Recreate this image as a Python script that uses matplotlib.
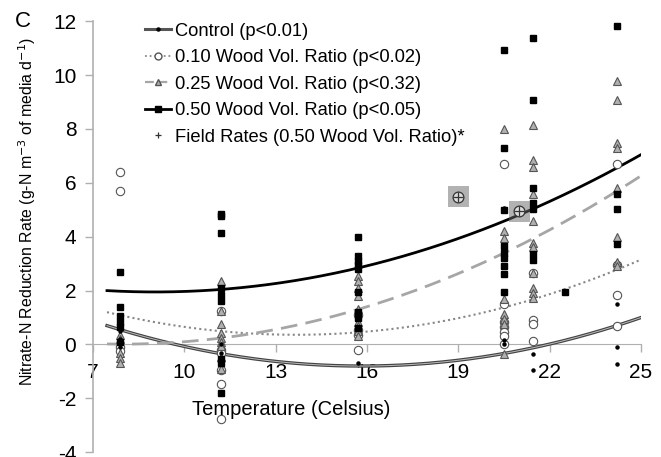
import numpy as np
import matplotlib
matplotlib.use("Agg")
import matplotlib.pyplot as plt
from matplotlib.lines import Line2D

plt.rcParams['font.family'] = ['Liberation Sans', 'DejaVu Sans']

# temperatures (Celsius) of each sampling column
temps = [7.9, 11.2, 15.7, 20.5, 21.45, 24.2]

# nitrate-N reduction rates per column, per treatment
control_y = [[0.5, 0.2, -0.1], [0.0, -0.3, -0.6], [-0.7],
             [5.05, 0.15, 0.0], [-0.35, -0.95], [1.5, -0.08, -0.73]]
wood10_y = [[6.4, 5.7, -0.1, -0.25],
            [1.25, -0.2, -0.3, -0.95, -1.45, -2.75],
            [1.1, 0.55, 0.35, -0.2],
            [6.7, 1.5, 0.85, 0.65, 0.45, 0.3, 0.0],
            [2.66, 0.92, 0.76, 0.12],
            [6.7, 2.95, 1.84, 0.67]]
wood25_y = [[0.35, 0.2, -0.3, -0.5, -0.7],
            [2.35, 1.25, 0.75, 0.42, 0.25, 0.1, -0.05, -0.45, -0.9],
            [2.55, 2.35, 2.1, 1.8, 1.3, 0.85, 0.7, 0.5, 0.3],
            [7.98, 4.2, 3.95, 1.7, 1.15, 0.95, 0.75, -0.35],
            [8.14, 6.85, 6.6, 5.6, 4.58, 3.78, 3.6, 2.66, 2.1, 1.9, 1.72],
            [9.78, 9.07, 7.47, 7.28, 5.8, 3.98, 3.05, 2.9]]
wood50_y = [[2.7, 1.4, 1.05, 0.85, 0.65, 0.1],
            [4.85, 4.75, 4.13, 2.1, 1.85, 1.62, -0.55, -0.7, -1.8],
            [3.98, 3.3, 3.1, 2.95, 2.8, 1.95, 1.2, 1.0, 0.6],
            [10.93, 7.3, 4.99, 3.65, 3.4, 3.2, 2.9, 2.6, 1.95],
            [11.38, 9.08, 5.82, 5.24, 5.03, 3.35, 3.15],
            [11.82, 5.6, 5.02, 3.72]]
extra50_x = [22.5]
extra50_y = [1.95]

field_x = [19.0, 21.0]
field_y = [5.48, 4.95]

# quadratic trendline coefficients [x^2, x, 1]
fit_control = [0.0214, -0.6775, 4.563]
fit_10 = [0.02174, -0.5945, 4.425]
fit_25 = [0.02155, -0.3438, 1.3854]
fit_50 = [0.0200, -0.3616, 3.584]
fit_range = [7.46, 25.0]

labels = ["Control (p<0.01)", "0.10 Wood Vol. Ratio (p<0.02)",
          "0.25 Wood Vol. Ratio (p<0.32)", "0.50 Wood Vol. Ratio (p<0.05)",
          "Field Rates (0.50 Wood Vol. Ratio)*"]


def flat(cols):
    xs, ys = [], []
    for t, vals in zip(temps, cols):
        xs += [t] * len(vals)
        ys += vals
    return xs, ys


fig = plt.figure(figsize=(6.61, 4.57), dpi=100)
ax = fig.add_axes([0.1407, 0.0103, 0.829, 0.9435])

xx = np.linspace(fit_range[0], fit_range[1], 200)
ax.plot(xx, np.polyval(fit_control, xx), color="#444444", lw=2.4, zorder=3)
ax.plot(xx, np.polyval(fit_control, xx), color="#bbbbbb", lw=0.7, zorder=3)
ax.plot(xx, np.polyval(fit_10, xx), color="#888888", lw=1.5, ls=(0, (1, 1.5)), zorder=3)
ax.plot(xx, np.polyval(fit_25, xx), color="#a6a6a6", lw=2.0, ls=(0, (6, 3)), zorder=3)
ax.plot(xx, np.polyval(fit_50, xx), color="black", lw=2.0, zorder=3)

x, y = flat(wood10_y)
ax.plot(x, y, "o", ms=6, mfc="white", mec="#555555", mew=0.8, ls="none", zorder=4)
x, y = flat(wood25_y)
ax.plot(x, y, "^", ms=6, mfc="#b0b0b0", mec="#555555", mew=0.8, ls="none", zorder=5)
x, y = flat(wood50_y)
ax.plot(x, y, "s", ms=4.8, color="black", ls="none", zorder=6)
ax.plot(extra50_x, extra50_y, "s", ms=4.8, color="black", ls="none", zorder=6)
x, y = flat(control_y)
ax.plot(x, y, "o", ms=2.2, color="black", ls="none", zorder=7)

ax.scatter(field_x, field_y, s=230, marker="s", color="#666666", alpha=0.5,
           edgecolors="none", zorder=8)
ax.scatter(field_x, field_y, s=60, marker="o", color="#dddddd",
           edgecolors="#333333", linewidths=0.9, zorder=9)
ax.scatter(field_x, field_y, s=60, marker="+", color="#333333",
           linewidths=0.9, zorder=10)

ax.set_xlim(7, 25)
ax.set_ylim(-4, 12)
ax.set_xticks([7, 10, 13, 16, 19, 22, 25])
ax.set_yticks(range(-4, 13, 2))
ax.set_yticklabels([str(v) for v in range(-4, 13, 2)])

for s in ["top", "right"]:
    ax.spines[s].set_visible(False)
ax.spines["bottom"].set_position(("data", 0))
ax.spines["bottom"].set_color("#b0b0b0")
ax.spines["left"].set_color("#b0b0b0")
ax.spines["left"].set_linewidth(1.2)
ax.tick_params(axis="both", colors="#b0b0b0", labelcolor="black",
               labelsize=15, length=6, width=1)
ax.tick_params(axis="x", pad=7)
ax.tick_params(axis="y", pad=6)

ax.text(13.5, -2.43, "Temperature (Celsius)", fontsize=14.5,
        ha="center", va="center")
fig.text(0.041, 0.538, "Nitrate-N Reduction Rate (g-N m$^{-3}$ of media d$^{-1}$)",
         rotation=90, fontsize=11.4, ha="center", va="center")
fig.text(0.022, 0.952, "C", fontsize=16, ha="left", va="center")

handles = [
    Line2D([], [], color="#555555", lw=2.2, marker="o", ms=2.2, mfc="black", mec="black"),
    Line2D([], [], color="#888888", lw=1.3, ls=(0, (1, 1.6)), marker="o", ms=5,
           mfc="white", mec="#555555"),
    Line2D([], [], color="#a6a6a6", lw=1.6, ls=(0, (4, 2)), marker="^", ms=5,
           mfc="#b0b0b0", mec="#555555"),
    Line2D([], [], color="black", lw=2.0, marker="s", ms=4.5, mfc="black", mec="black"),
    Line2D([], [], color="none", marker="+", ms=5, mec="#333333", mew=0.9),
]
ax.legend(handles, labels, loc="upper left", bbox_to_anchor=(0.088, 1.005),
          frameon=False, fontsize=13.2, handlelength=1.45, handletextpad=0.2,
          labelspacing=0.52, borderaxespad=0, borderpad=0.2)

fig.savefig("out.png", dpi=100)
